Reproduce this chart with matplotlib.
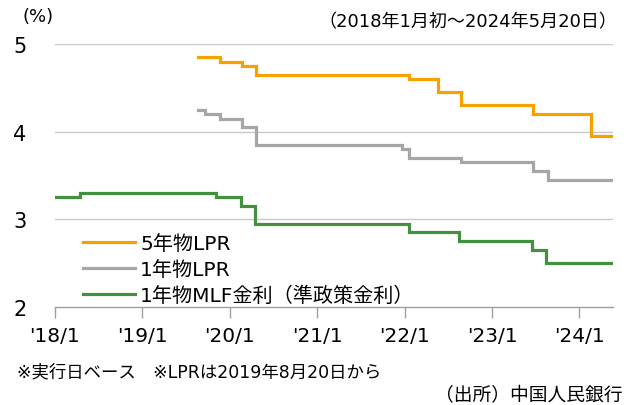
import matplotlib
matplotlib.use("Agg")
import matplotlib.pyplot as plt
from datetime import datetime

plt.rcParams['font.family'] = ['DejaVu Sans', 'Noto Sans CJK JP']

# Policy-rate change dates (effective dates) and levels, %
lpr5_dates = ["2019-08-20", "2019-11-20", "2020-02-20", "2020-04-20", "2022-01-20",
              "2022-05-20", "2022-08-22", "2023-06-20", "2024-02-20"]
lpr5_rates = [4.85, 4.80, 4.75, 4.65, 4.60, 4.45, 4.30, 4.20, 3.95]

lpr1_dates = ["2019-08-20", "2019-09-20", "2019-11-20", "2020-02-20", "2020-04-20",
              "2021-12-20", "2022-01-20", "2022-08-22", "2023-06-20", "2023-08-21"]
lpr1_rates = [4.25, 4.20, 4.15, 4.05, 3.85, 3.80, 3.70, 3.65, 3.55, 3.45]

mlf_dates = ["2018-01-01", "2018-04-17", "2019-11-05", "2020-02-17", "2020-04-15",
             "2022-01-17", "2022-08-15", "2023-06-15", "2023-08-15"]
mlf_rates = [3.25, 3.30, 3.25, 3.15, 2.95, 2.85, 2.75, 2.65, 2.50]

period_start = "2018-01-01"
period_end = "2024-05-20"

series_names = ["5年物LPR", "1年物LPR", "1年物MLF金利（準政策金利）"]
series_colors = ["#F5A100", "#A6A6A6", "#41913F"]

xtick_dates = ["2018-01-01", "2019-01-01", "2020-01-01", "2021-01-01",
               "2022-01-01", "2023-01-01", "2024-01-01"]
xtick_labels = ["'18/1", "'19/1", "'20/1", "'21/1", "'22/1", "'23/1", "'24/1"]
yticks = [2, 3, 4, 5]


def to_dt(s):
    return datetime.strptime(s, "%Y-%m-%d")


def step_series(dates, rates, end):
    d = [to_dt(x) for x in dates] + [to_dt(end)]
    r = list(rates) + [rates[-1]]
    return d, r


W, H = 634, 406
fig = plt.figure(figsize=(W / 100, H / 100), dpi=100)
ax = fig.add_axes([55 / W, (H - 308) / H, 558 / W, 263 / H])

lines = []
for dates, rates, name, color in zip(
        [lpr5_dates, lpr1_dates, mlf_dates],
        [lpr5_rates, lpr1_rates, mlf_rates],
        series_names, series_colors):
    d, r = step_series(dates, rates, period_end)
    ln, = ax.plot(d, r, drawstyle="steps-post", color=color, lw=2.3,
                  label=name, solid_joinstyle="miter", zorder=3)
    lines.append(ln)

ax.set_xlim(to_dt(period_start), to_dt(period_end))
ax.set_ylim(2, 5)

ax.set_yticks(yticks)
ax.set_yticklabels([str(v) for v in yticks], fontsize=15)
ax.tick_params(axis="y", length=0, pad=30)
for lab in ax.get_yticklabels():
    lab.set_horizontalalignment("left")
for v in yticks[1:]:
    ax.axhline(v, color="#C9C9C9", lw=1.0, zorder=1)

ax.set_xticks([to_dt(x) for x in xtick_dates])
ax.set_xticklabels(xtick_labels, fontsize=14.5)
ax.tick_params(axis="x", direction="out", length=8, width=1, color="#A0A0A0",
               pad=6)

for side in ["left", "right", "top"]:
    ax.spines[side].set_visible(False)
ax.spines["bottom"].set_color("#A0A0A0")
ax.spines["bottom"].set_linewidth(1.0)

leg = ax.legend(handles=lines, loc="lower left", bbox_to_anchor=(0.05, 0.008),
                frameon=False, fontsize=14.5, handlelength=2.6,
                handletextpad=0.25, labelspacing=0.33, borderpad=0,
                borderaxespad=0.0)

fig.text(22 / W, 1 - 17 / H, "(%)", fontsize=13, ha="left", va="center")
fig.text(617 / W, 1 - 22 / H, "（2018年1月初～2024年5月20日）", fontsize=13,
         ha="right", va="center")
fig.text(17 / W, 1 - 372 / H, "※実行日ベース　※LPRは2019年8月20日から",
         fontsize=12.5, ha="left", va="center")
fig.text(622 / W, 1 - 396 / H, "（出所）中国人民銀行", fontsize=13.5,
         ha="right", va="center")

fig.savefig("out.png", dpi=100)
